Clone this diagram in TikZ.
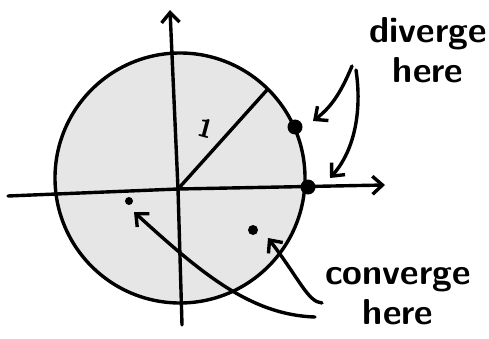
\documentclass[tikz,border=0pt]{standalone}
\usepackage{tikz}
\usetikzlibrary{arrows.meta}
\definecolor{diskgray}{RGB}{230,230,230}
\tikzset{
    sketch/.style={line width=3.4pt, line cap=round, line join=round},
    barb/.style={-{Straight Barb[length=10pt, width=18pt, line width=3.4pt]}},
    scribble/.style={font=\sffamily\bfseries\fontsize{36}{40}\selectfont, align=center, inner sep=0pt}
}

\begin{document}
\begin{tikzpicture}[x=1pt, y=-1pt]

    \useasboundingbox (0,0) rectangle (489,339);

    % ==========================================
    % UNIT DISK (drawn first to stay in background)
    % ==========================================
    \coordinate (centre) at (180,178);
    \draw[sketch, fill=diskgray] (centre) circle[radius=125];

    % ==========================================
    % AXES
    % ==========================================
    \coordinate (origin) at (178,189);
    \coordinate (xstart) at (8,196);
    \coordinate (xend) at (385,185);
    \coordinate (ystart) at (182,325);
    \coordinate (yend) at (170,10);
    \draw[sketch, barb] (xstart) -- (origin) -- (xend);
    \draw[sketch, barb] (ystart) -- (origin) -- (yend);

    % Radius and its label
    \coordinate (rim) at (267,90);
    \draw[sketch] (origin) -- (rim);
    \node[scribble, font=\sffamily\bfseries\fontsize{26}{26}\selectfont, rotate=-15] (one) at (206,128) {1};

    % ==========================================
    % POINTS
    % ==========================================
    \node[circle, fill=black, inner sep=0pt, minimum size=15pt] (bdupper) at (295,127) {};
    \node[circle, fill=black, inner sep=0pt, minimum size=15pt] (bdaxis) at (308,187) {};
    \node[circle, fill=black, inner sep=0pt, minimum size=8pt] (inleft) at (129,201) {};
    \node[circle, fill=black, inner sep=0pt, minimum size=10pt] (inright) at (253,230) {};

    % ==========================================
    % LABELS AND ARROWS
    % ==========================================
    \node[scribble] (diverge) at (428,50) {diverge\\here};
    \node[scribble] (converge) at (398,296) {converge\\here};

    \coordinate (divA) at (352,66);
    \coordinate (divB) at (356,70);
    \draw[sketch, barb] (divA) .. controls (340,95) and (330,108) .. (313,121);
    \draw[sketch, barb] (divB) .. controls (362,110) and (355,150) .. (330,178);

    \coordinate (convA) at (315,317);
    \coordinate (convB) at (322,303);
    \draw[sketch, barb] (convA) .. controls (250,315) and (200,272) .. (134,212);
    \draw[sketch, barb] (convB) .. controls (308,302) and (300,280) .. (268,238);

\end{tikzpicture}
\end{document}
